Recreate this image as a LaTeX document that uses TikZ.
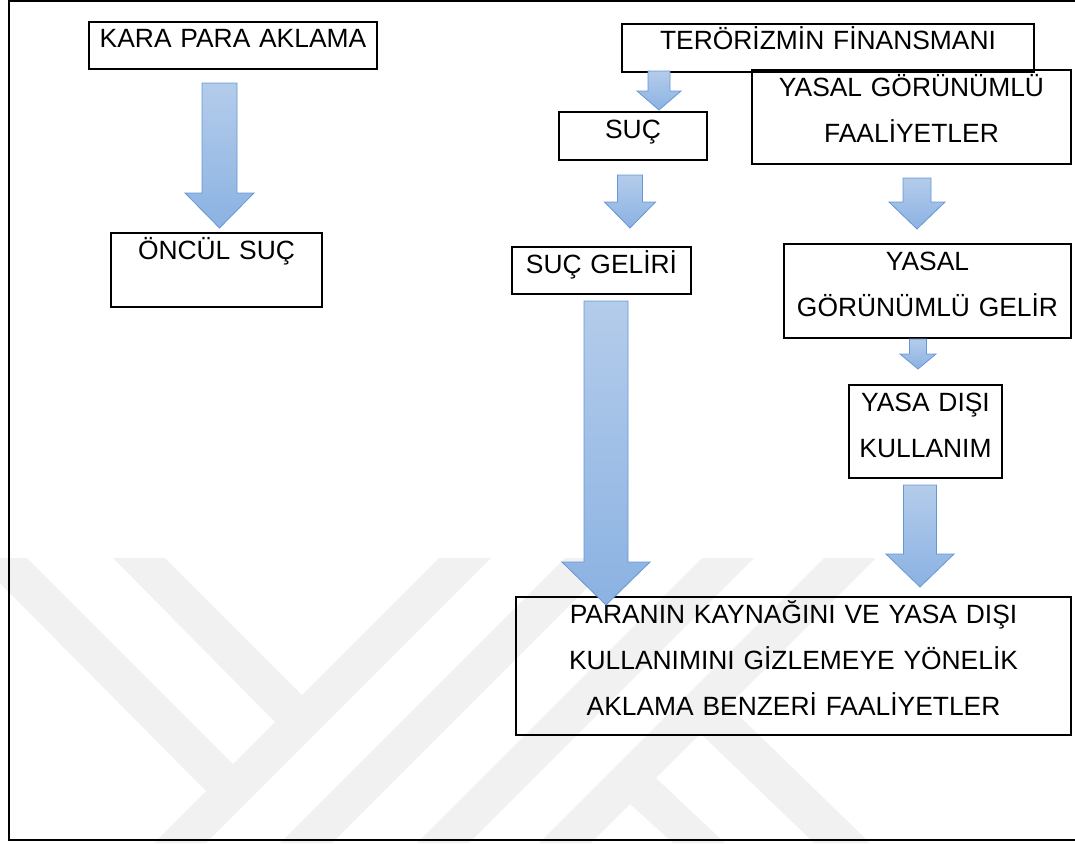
\documentclass[tikz,border=0pt]{standalone}
\usepackage{fontspec}
\setmainfont{Liberation Sans}
\usepackage{tikz}
\usetikzlibrary{positioning,calc}
\definecolor{arrowtop}{RGB}{180,204,235}
\definecolor{arrowbot}{RGB}{139,178,226}
\definecolor{arrowedge}{RGB}{102,150,214}
\definecolor{wmgray}{RGB}{241,241,241}
% block arrow: from, to, half shaft, half head, head length
\newcommand{\blockarrow}[5]{%
\path[arrowbody] let \p1=(#1), \p2=(#2) in
  (\x1-#3pt,\y1) -- (\x1+#3pt,\y1) -- (\x1+#3pt,\y2+#5pt) -- (\x1+#4pt,\y2+#5pt)
  -- (\x2,\y2) -- (\x1-#4pt,\y2+#5pt) -- (\x1-#3pt,\y2+#5pt) -- cycle;}

\begin{document}
\begin{tikzpicture}[x=1pt, y=-1pt,
  box/.style={draw, line width=2pt, inner sep=0pt, anchor=north west, align=center,
    font=\fontsize{26.4}{46}\selectfont, text height=26pt},
  arrowbody/.style={top color=arrowtop, bottom color=arrowbot, draw=arrowedge, line width=0.8pt}]
\useasboundingbox (0,0) rectangle (1075,843);
%watermark
\begin{scope}
\clip (0,558) rectangle (1075,843);
\foreach \a in {439,565,702,824}
  \fill[wmgray] (\a,558) -- (\a+52,558) -- (\a-233,843) -- (\a-285,843) -- cycle;
\fill[wmgray] (-25,558) -- (27,558) -- (235,766) -- (207,792) -- cycle;
\fill[wmgray] (113,558) -- (165,558) -- (304,697) -- (276,723) -- cycle;
\fill[wmgray] (700,733) -- (728,705) -- (870,843) -- (814,843) -- cycle;
\fill[wmgray] (630,804) -- (656,778) -- (725,843) -- (673,843) -- cycle;
\end{scope}
%frame
\draw[line width=2pt] (1090,1) -- (9,1) -- (9,840) -- (1090,840);
%nodes
\node[box, text width=288pt, text depth=21pt] (kara) at (88,21) {KARA PARA AKLAMA};
\node[box, text width=211pt, text depth=48pt] (oncul) at (110,232) {ÖNCÜL SUÇ};
\node[box, text width=412pt, text depth=22pt] (teror) at (621,23) {TERÖRİZMİN FİNANSMANI};
\node[box, text width=319pt, text depth=68pt] (yasalfaal) at (751,69) {YASAL GÖRÜNÜMLÜ\\FAALİYETLER};
\node[box, text width=148pt, text depth=22pt] (suc) at (558,111) {SUÇ};
\node[box, text width=179pt, text depth=21pt] (sucgelir) at (511,246) {SUÇ GELİRİ};
\node[box, text width=287pt, text depth=68pt] (yasalgelir) at (783,243) {YASAL\\GÖRÜNÜMLÜ GELİR};
\node[box, text width=153pt, text depth=67pt] (yasadisi) at (848,384) {YASA DIŞI\\KULLANIM};
\node[box, text width=555pt, text depth=112pt] (paranin) at (515,596) {PARANIN KAYNAĞINI VE YASA DIŞI\\KULLANIMINI GİZLEMEYE YÖNELİK\\AKLAMA BENZERİ FAALİYETLER};
%arrows
\coordinate (karaout) at (219.5,83);
\coordinate (onculin) at (219.5,228);
\coordinate (terorout) at (659,71);
\coordinate (sucin) at (659,110);
\coordinate (sucout) at (630,175);
\coordinate (sucgelirin) at (630,228);
\coordinate (yasalfaalout) at (917,178);
\coordinate (yasalgelirin) at (917,229);
\coordinate (yasalgelirout) at (918,339);
\coordinate (yasadisiin) at (918,369);
\coordinate (yasadisiout) at (920,485);
\coordinate (paraninin1) at (920,587);
\coordinate (sucgelirout) at (606,301);
\coordinate (paraninin2) at (606,605);
\blockarrow{karaout}{onculin}{17.5}{34.5}{35}
\blockarrow{terorout}{sucin}{11}{22}{19}
\blockarrow{sucout}{sucgelirin}{12.5}{25.5}{26}
\blockarrow{yasalfaalout}{yasalgelirin}{14}{28}{27}
\blockarrow{yasalgelirout}{yasadisiin}{8.5}{18}{15}
\blockarrow{yasadisiout}{paraninin1}{16.5}{34}{33}
\blockarrow{sucgelirout}{paraninin2}{22}{44}{43}
\end{tikzpicture}
\end{document}
